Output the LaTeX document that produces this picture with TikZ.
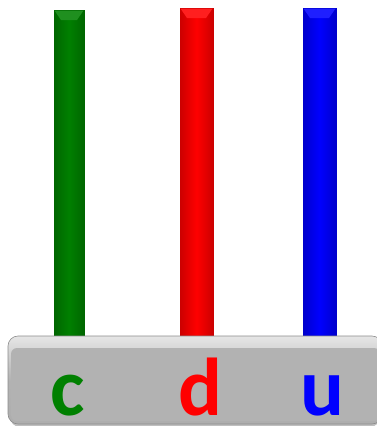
\documentclass[tikz,border=0pt]{standalone}
\usepackage{fontspec}
\setmainfont{Carlito}
\begin{document}
\begin{tikzpicture}[x=1pt,y=-1pt,
  barstyle/.style={draw=#1!80!black, line width=0.6pt, left color=#1!80!black, right color=#1!80!black, middle color=#1},
  bevel/.style={fill=#1!88!white},
  letter/.style={font=\bfseries\fontsize{82}{82}\selectfont, inner sep=0pt, anchor=base}]
\useasboundingbox (0,0) rectangle (377,426);
% bars
\path[barstyle=green!50!black] (54,10) rectangle (84,336);
\path[bevel=green!50!black] (54.5,10.5) -- (83.5,10.5) -- (77,20) -- (61,20) -- cycle;
\path[barstyle=red] (180,8) rectangle (213,336);
\path[bevel=red] (180.5,8.5) -- (212.5,8.5) -- (206,18) -- (187,18) -- cycle;
\path[barstyle=blue] (303,8) rectangle (336,336);
\path[bevel=blue] (303.5,8.5) -- (335.5,8.5) -- (329,18) -- (310,18) -- cycle;
% base shadow
\fill[black!25, rounded corners=10pt] (10,339) rectangle (380,427);
% base
\path[draw=black!45, line width=0.6pt, rounded corners=10pt, top color=black!10, bottom color=black!32, middle color=black!30, shading angle=0]
  (8,336) rectangle (382,424);
\fill[black!30, rounded corners=6pt] (11,348) rectangle (380,421);
% letters
\node[letter, text=green!50!black] (c) at (68,415) {c};
\node[letter, text=red] (d) at (200,415) {d};
\node[letter, text=blue] (u) at (322,415) {u};
\end{tikzpicture}
\end{document}
